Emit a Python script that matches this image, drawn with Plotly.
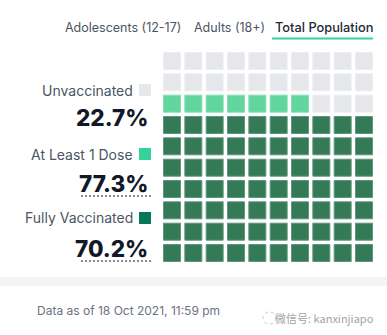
import plotly.graph_objects as go

# ---- data ----
tabs = ["Adolescents (12-17)", "Adults (18+)", "Total Population"]
categories = ["Unvaccinated", "At Least 1 Dose", "Fully Vaccinated"]
percents = [22.7, 77.3, 70.2]
footer = "Data as of 18 Oct 2021, 11:59 pm"
watermark = "微信号: kanxinjiapo"

W, H = 387, 335
def px(x): return x / W
def py(y): return 1 - y / H

n_full = round(percents[2])
n_one = round(percents[1])

groups = {"full": ([], []), "one": ([], []), "none": ([], [])}
for k in range(100):
    r, c = k // 10, k % 10
    key = "full" if k < n_full else ("one" if k < n_one else "none")
    groups[key][0].append(c)
    groups[key][1].append(r)

cell_fill = {"none": "#e5e7eb", "one": "#62d59c", "full": "#357a57"}
cell_line = {"none": "#eceef1", "one": "#82dfb0", "full": "#5f9679"}

fig = go.Figure()
for key in ["none", "one", "full"]:
    xs, ys = groups[key]
    fig.add_trace(go.Scatter(
        x=xs, y=ys, mode="markers", hoverinfo="skip", showlegend=False,
        marker=dict(symbol="square", size=17, color=cell_fill[key],
                    line=dict(color=cell_line[key], width=1))))

shapes = []
annotations = []
font = "Inter, Roboto, sans-serif"

# tabs
tab_x = [63, 192, 273]
for i, t in enumerate(tabs):
    active = i == 2
    annotations.append(dict(
        x=px(tab_x[i]), y=py(28), xref="paper", yref="paper", text=t,
        showarrow=False, xanchor="left", yanchor="middle",
        font=dict(family=font, size=12.8 if active else 12.5,
                  color="#1f2937" if active else "#4b5563",
                  weight=500 if active else 400)))
shapes.append(dict(type="line", xref="paper", yref="paper",
                   x0=px(272), x1=px(373), y0=py(38.5), y1=py(38.5),
                   line=dict(color="#34d399", width=2)))

# legend labels
swatch_colors = ["#e5e7eb", "#34d399", "#047857"]
label_y = [90, 154, 218]
pct_y = [118, 183, 248]
for i, cat in enumerate(categories):
    annotations.append(dict(
        x=px(134.5), y=py(label_y[i]), xref="paper", yref="paper", text=cat,
        showarrow=False, xanchor="right", yanchor="middle",
        font=dict(family=font, size=14, color="#4b5563")))
    shapes.append(dict(type="rect", xref="paper", yref="paper",
                       x0=px(139), x1=px(151), y0=py(label_y[i] - 6), y1=py(label_y[i] + 6),
                       fillcolor=swatch_colors[i], line=dict(width=0)))
    annotations.append(dict(
        x=px(150), y=py(pct_y[i]), xref="paper", yref="paper",
        text=f"{percents[i]:.1f}%",
        showarrow=False, xanchor="right", yanchor="middle",
        font=dict(family=font, size=22.5, color="#111827", weight=800)))
    if i > 0:
        uy = pct_y[i] + 13
        shapes.append(dict(type="line", xref="paper", yref="paper",
                           x0=px(81), x1=px(151), y0=py(uy), y1=py(uy),
                           line=dict(color="#111827", width=1, dash="2px,2px")))

# separator band
shapes.append(dict(type="rect", xref="paper", yref="paper",
                   x0=0, x1=1, y0=py(286), y1=py(277),
                   fillcolor="#f3f4f6", line=dict(width=0), layer="below"))

annotations.append(dict(
    x=px(35), y=py(310), xref="paper", yref="paper", text=footer,
    showarrow=False, xanchor="left", yanchor="middle",
    font=dict(family=font, size=12, color="#6b7280")))
annotations.append(dict(
    x=px(376), y=py(318), xref="paper", yref="paper", text=watermark,
    showarrow=False, xanchor="right", yanchor="middle",
    font=dict(family="Noto Sans CJK SC, sans-serif", size=11, color="#a3a3a3")))
shapes.append(dict(type="circle", xref="paper", yref="paper",
                   x0=px(263), x1=px(276), y0=py(324), y1=py(312),
                   line=dict(color="#c8c8c8", width=1, dash="dot")))

fig.update_layout(
    width=W, height=H, margin=dict(l=0, r=0, t=0, b=0),
    paper_bgcolor="white", plot_bgcolor="rgba(0,0,0,0)",
    xaxis=dict(domain=[px(161.33), px(374.67)], range=[-0.5, 9.5],
               visible=False, fixedrange=True),
    yaxis=dict(domain=[py(263.67), py(50.33)], range=[-0.5, 9.5],
               visible=False, fixedrange=True),
    shapes=shapes, annotations=annotations,
)

fig.write_html("out.html")
